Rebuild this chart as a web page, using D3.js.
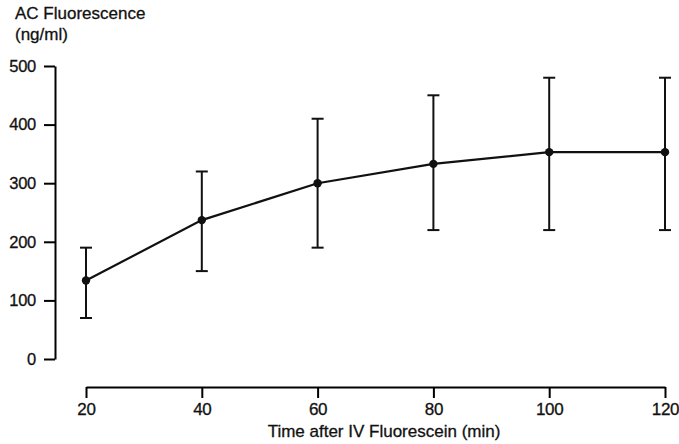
<!DOCTYPE html>
<html>
<head>
<meta charset="utf-8">
<script src="https://cdn.jsdelivr.net/npm/d3@7"></script>
<style>
  body { margin: 0; background: #fff; }
  svg text { font-family: "Liberation Sans", Arial, sans-serif; fill: #111; stroke: #111; stroke-width: 0.3px; }
</style>
</head>
<body>
<div id="chart"></div>
<script>
// data
const times = [20, 40, 60, 80, 100, 120];
const means = [134, 237, 300, 333, 353, 353];
const upper = [190, 320, 410, 450, 480, 480];
const lower = [70, 150, 190, 220, 220, 220];
const yTicks = [0, 100, 200, 300, 400, 500];
const xTicks = [20, 40, 60, 80, 100, 120];

const W = 679, H = 444;
const svg = d3.select("#chart").append("svg")
  .attr("width", W).attr("height", H);

const x = d3.scaleLinear().domain([20, 120]).range([86, 665]);
const y = d3.scaleLinear().domain([0, 500]).range([359, 66]);

// y axis
const yAxis = svg.append("g")
  .attr("transform", "translate(55,0)")
  .call(d3.axisLeft(y).tickValues(yTicks).tickSize(11).tickPadding(8).tickSizeOuter(0));
yAxis.select(".domain").attr("stroke-width", 2);
yAxis.selectAll(".tick line").attr("stroke-width", 2);
yAxis.selectAll("text").style("font-size", "16.5px").attr("letter-spacing", "-0.3px");

// x axis (detached, ticks pointing down)
const xAxis = svg.append("g")
  .attr("transform", "translate(0,387)")
  .call(d3.axisBottom(x).tickValues(xTicks).tickSize(11).tickPadding(5).tickSizeOuter(0));
xAxis.select(".domain").attr("stroke-width", 2);
xAxis.selectAll(".tick line").attr("stroke-width", 2);
xAxis.selectAll("text").style("font-size", "17px").attr("letter-spacing", "-0.3px");

// titles
svg.append("text").attr("x", 15).attr("y", 19)
  .style("font-size", "17px")
  .text("AC Fluorescence");
svg.append("text").attr("x", 15).attr("y", 40)
  .style("font-size", "17px")
  .text("(ng/ml)");
svg.append("text").attr("x", 384).attr("y", 437)
  .attr("text-anchor", "middle")
  .style("font-size", "17px")
  .text("Time after IV Fluorescein (min)");

const rows = times.map((t, i) => ({ t, m: means[i], hi: upper[i], lo: lower[i] }));

// error bars
const eb = svg.append("g").attr("stroke", "#111").attr("stroke-width", 2);
eb.selectAll(".v").data(rows).join("line")
  .attr("x1", d => x(d.t)).attr("x2", d => x(d.t))
  .attr("y1", d => y(d.hi)).attr("y2", d => y(d.lo));
eb.selectAll(".capHi").data(rows).join("line")
  .attr("x1", d => x(d.t) - 6).attr("x2", d => x(d.t) + 6)
  .attr("y1", d => y(d.hi)).attr("y2", d => y(d.hi));
eb.selectAll(".capLo").data(rows).join("line")
  .attr("x1", d => x(d.t) - 6).attr("x2", d => x(d.t) + 6)
  .attr("y1", d => y(d.lo)).attr("y2", d => y(d.lo));

// mean line
svg.append("path").datum(rows)
  .attr("fill", "none").attr("stroke", "#111").attr("stroke-width", 2.2)
  .attr("d", d3.line().x(d => x(d.t)).y(d => y(d.m)));

svg.selectAll(".pt").data(rows).join("circle")
  .attr("cx", d => x(d.t)).attr("cy", d => y(d.m))
  .attr("r", 4.2).attr("fill", "#111");
</script>
</body>
</html>
